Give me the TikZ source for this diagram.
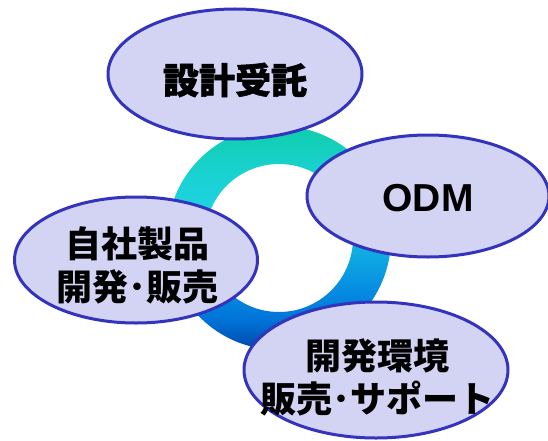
\documentclass[tikz,border=0pt]{standalone}
\usepackage{fontspec}
\newfontfamily\jp{Noto Sans CJK JP}
\newfontfamily\jpheavy{Noto Sans CJK JP}[FakeBold=1.5]
\newfontfamily\lat{Liberation Sans}
\usetikzlibrary{shapes.geometric}
\definecolor{efill}{RGB}{211,211,243}
\definecolor{edraw}{RGB}{51,51,190}
\definecolor{rc0}{RGB}{0,70,170}
\definecolor{rc1}{RGB}{0,115,215}
\definecolor{rc2}{RGB}{5,140,225}
\definecolor{rc3}{RGB}{15,170,225}
\definecolor{rc4}{RGB}{30,210,225}
\definecolor{rc5}{RGB}{25,210,210}
\definecolor{rc6}{RGB}{15,205,172}
\pgfdeclareverticalshading{ringsh}{100bp}{color(0bp)=(rc0); color(25bp)=(rc0); color(31.7bp)=(rc1); color(38.4bp)=(rc2); color(46.2bp)=(rc3); color(56.2bp)=(rc4); color(64.1bp)=(rc5); color(75bp)=(rc6); color(100bp)=(rc6)}
\tikzset{
  bubble/.style={ellipse, fill=efill, draw=edraw, line width=3pt, inner sep=0pt},
  jtxt/.style={font=\jp\bfseries\fontsize{36}{43}\selectfont, align=center, inner sep=0pt},
  htxt/.style={font=\jpheavy\bfseries\fontsize{36}{43}\selectfont, align=center, inner sep=0pt},
  ltxt/.style={font=\lat\bfseries\fontsize{39}{44}\selectfont, inner sep=0pt}
}
\begin{document}
\begin{tikzpicture}[x=1pt,y=-1pt]
\useasboundingbox (0,0) rectangle (548,441);
% ring
\path[even odd rule, shading=ringsh]
  (279,238) circle[radius=112] (279,238) circle[radius=74];
% bubbles
\node[bubble, minimum width=254pt, minimum height=130pt] (b1) at (235,74) {};
\node[bubble, minimum width=242pt, minimum height=122pt] (b2) at (428,196) {};
\node[bubble, minimum width=243pt, minimum height=126pt] (b3) at (136,260) {};
\node[bubble, minimum width=264pt, minimum height=136pt] (b4) at (376,370) {};
% texts
\node[htxt] (t1) at (235,80) {設計受託};
\node[ltxt] (t2) at (428,198) {ODM};
\node[jtxt] (t3) at (137,265) {自社製品\\開発･販売};
\node[jtxt] (t4) at (377,377) {開発環境\\販売･サポート};
\end{tikzpicture}
\end{document}
